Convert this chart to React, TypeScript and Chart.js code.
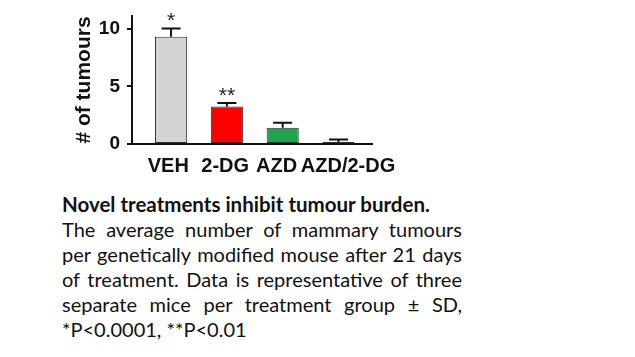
import React, { useEffect, useRef } from 'react';
import { Chart, registerables } from 'chart.js';

Chart.register(...registerables);

const categories = ['VEH', '2-DG', 'AZD', 'AZD/2-DG'];
const means = [9.3, 3.25, 1.42, 0.18];
const sds = [0.72, 0.3, 0.43, 0.22];
const significance = ['*', '**', '', ''];
const barColors = ['#d4d4d4', '#ff0000', '#1ea34f', '#1b1b8f'];
const yTicks = [0, 5, 10];
const yMax = 11.1;
const yTitle = '# of tumours';

const captionTitle = 'Novel treatments inhibit tumour burden.';
const captionLines = [
  'The average number of mammary tumours',
  'per genetically modified mouse after 21 days',
  'of treatment. Data is representative of three',
  'separate mice per treatment group ± SD,',
];
const captionLast = '*P<0.0001, **P<0.01';

const AXIS_FONT = '"Liberation Sans", Arial, sans-serif';
// small horizontal nudges (in category units) of the x labels, as typeset in the source figure
const LABEL_NUDGE = [-0.05, -0.03, -0.11, 0.17];

const errorBarPlugin = {
  id: 'errorBars',
  afterDatasetsDraw(chart: any) {
    const ctx = chart.ctx;
    const meta = chart.getDatasetMeta(0);
    const y = chart.scales.y;
    meta.data.forEach((bar: any, i: number) => {
      const base = y.getPixelForValue(means[i]);
      const top = y.getPixelForValue(means[i] + sds[i]);
      const cx = bar.x;
      ctx.save();
      ctx.strokeStyle = '#111';
      ctx.lineWidth = 2;
      ctx.beginPath();
      ctx.moveTo(cx, base);
      ctx.lineTo(cx, top);
      ctx.moveTo(cx - 9.5, top);
      ctx.lineTo(cx + 9.5, top);
      ctx.stroke();
      if (significance[i]) {
        ctx.font = `21px ${AXIS_FONT}`;
        ctx.textAlign = 'center';
        ctx.textBaseline = 'alphabetic';
        ctx.fillStyle = '#222';
        ctx.fillText(significance[i], cx, top - 1);
      }
      ctx.restore();
    });
  },
};

export default function App() {
  const ref = useRef<HTMLCanvasElement | null>(null);

  useEffect(() => {
    if (!ref.current) return;
    const chart = new Chart(ref.current, {
      type: 'bar',
      data: {
        datasets: [
          {
            data: means.map((v, i) => ({ x: i + 1, y: v })),
            backgroundColor: barColors,
            borderColor: '#333',
            borderWidth: 1,
            borderSkipped: false,
            categoryPercentage: 1,
            barPercentage: 0.625,
          } as any,
        ],
      },
      options: {
        animation: false,
        responsive: false,
        layout: { padding: { left: 0, top: 16, right: 28, bottom: 0 } },
        plugins: { legend: { display: false }, tooltip: { enabled: false }, title: { display: false } },
        scales: {
          x: {
            type: 'linear',
            bounds: 'data',
            offset: false,
            min: 0.3,
            max: 4.6,
            grid: { display: false, drawTicks: false, offset: false },
            border: { display: true, color: '#111', width: 2 },
            ticks: {
              padding: 10,
              color: '#111',
              font: { family: AXIS_FONT, size: 20, weight: 'bold' },
              autoSkip: false,
              maxRotation: 0,
              callback: (_v: any, idx: number) => categories[idx] ?? '',
            },
            afterBuildTicks: (s: any) => {
              s.ticks = categories.map((_, i) => ({ value: i + 1 + LABEL_NUDGE[i] }));
            },
            afterFit: (s: any) => {
              s.height = 41;
              s.paddingLeft = 0;
              s.paddingRight = 0;
            },
          },
          y: {
            bounds: 'data',
            min: 0,
            max: yMax,
            grid: { display: true, drawOnChartArea: false, drawTicks: true, tickLength: 5, color: '#111', lineWidth: 2 },
            border: { display: true, color: '#111', width: 2 },
            ticks: {
              padding: 7,
              color: '#111',
              font: { family: AXIS_FONT, size: 19, weight: 'bold' },
            },
            afterBuildTicks: (s: any) => {
              s.ticks = yTicks.map((v) => ({ value: v }));
            },
            afterFit: (s: any) => {
              s.width = 132;
              s.paddingTop = 0;
              s.paddingBottom = 0;
            },
            title: {
              display: true,
              text: yTitle,
              color: '#111',
              font: { family: AXIS_FONT, size: 21, weight: 'bold' },
              padding: { top: 72, bottom: 0 },
            },
          },
        },
      } as any,
      plugins: [errorBarPlugin],
    });
    return () => chart.destroy();
  }, []);

  const textFont = 'Lato, "Open Sans", sans-serif';

  return (
    <div style={{ position: 'absolute', left: 0, top: 0, width: 635, height: 357, background: '#fff', overflow: 'hidden' }}>
      <canvas ref={ref} width={400} height={185} style={{ position: 'absolute', left: 0, top: 0, display: 'block' }} />
      <div
        style={{
          position: 'absolute',
          left: 62,
          top: 192,
          width: 400,
          fontFamily: textFont,
          fontSize: 20,
          lineHeight: '25px',
          color: '#111',
        }}
      >
        <div style={{ fontWeight: 'bold', whiteSpace: 'nowrap', fontSize: 20.5 }}>{captionTitle}</div>
        {captionLines.map((l, i) => (
          <div key={i} style={{ textAlign: 'justify', textAlignLast: 'justify', whiteSpace: 'normal' } as any}>
            {l}
          </div>
        ))}
        <div style={{ whiteSpace: 'nowrap' }}>{captionLast}</div>
      </div>
    </div>
  );
}
